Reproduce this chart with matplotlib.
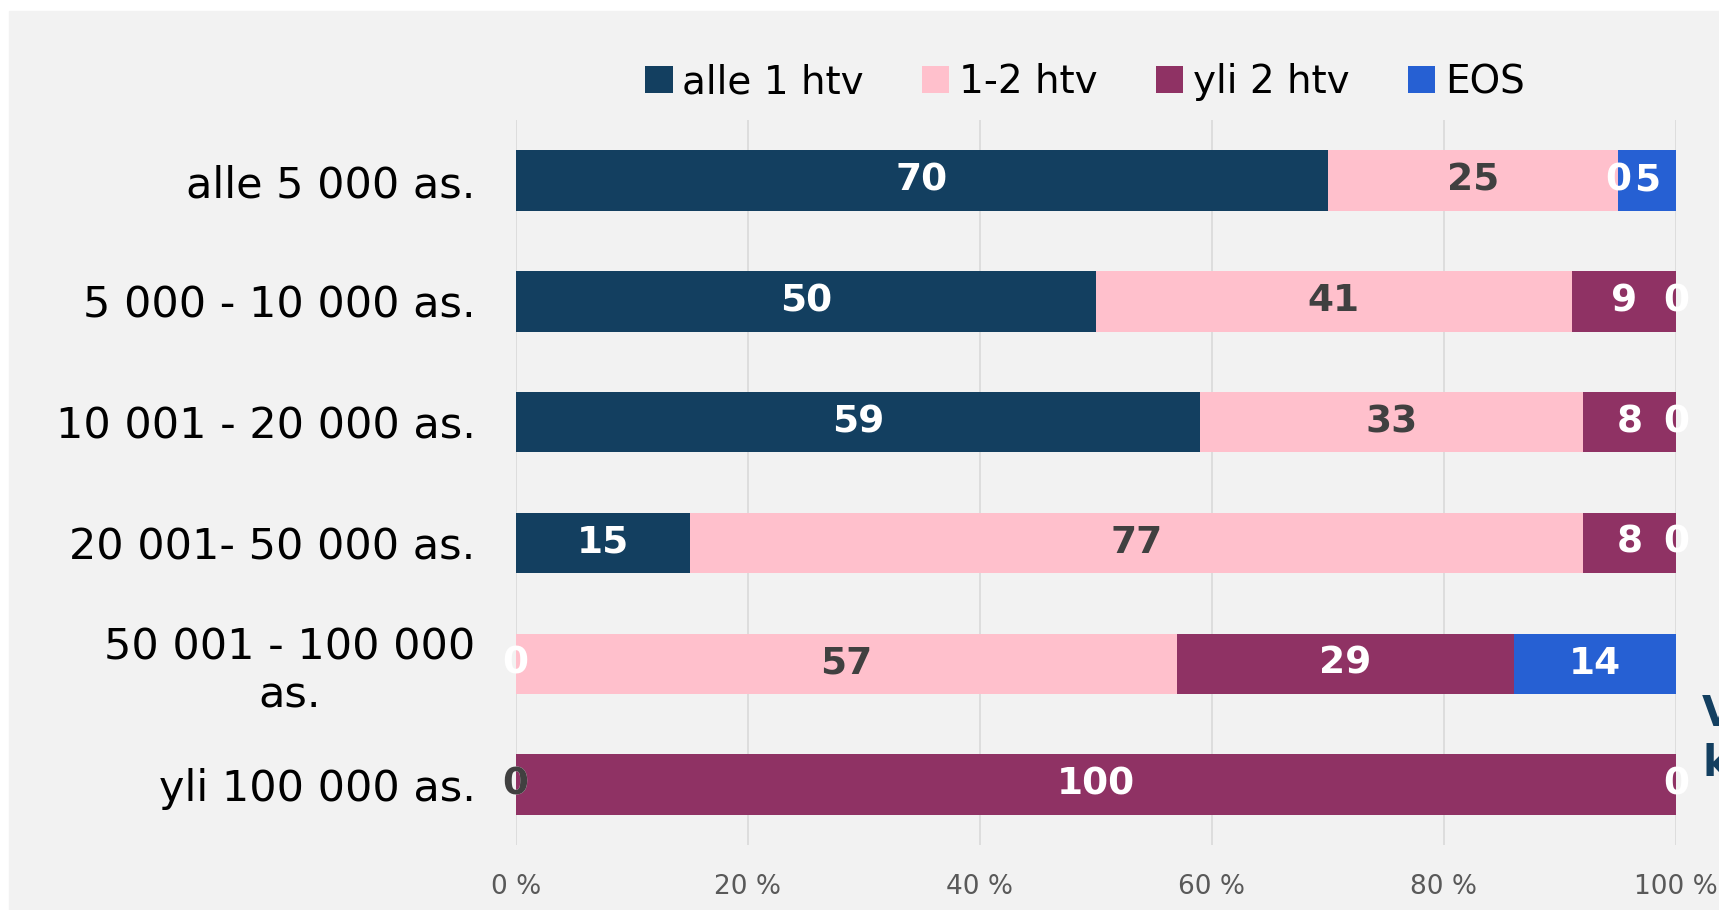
import numpy as np
import matplotlib
matplotlib.use('Agg')
from matplotlib import pyplot as plt
from matplotlib.patches import Rectangle

plt.rcParams['font.family'] = ['DejaVu Sans']

# Data
categories = ['alle 5 000 as.', '5 000 - 10 000 as.', '10 001 - 20 000 as.',
              '20 001- 50 000 as.', '50 001 - 100 000\nas.', 'yli 100 000 as.']
series = ['alle 1 htv', '1-2 htv', 'yli 2 htv', 'EOS']
alle_1 = [70, 50, 59, 15, 0, 0]
htv_1_2 = [25, 41, 33, 77, 57, 0]
yli_2 = [0, 9, 8, 8, 29, 100]
eos = [5, 0, 0, 0, 14, 0]
ticks = [0, 20, 40, 60, 80, 100]

colors = ['#133f60', '#ffc0cc', '#8f3264', '#2660d3']
label_colors = ['white', '#404040', 'white', 'white']

fig = plt.figure(figsize=(17.19, 9.10), dpi=100, facecolor='white')
fig.patches.append(Rectangle((9 / 1719, 0), 1, 1 - 11 / 910,
                             transform=fig.transFigure, color='#f2f2f2',
                             zorder=-10))
ax = fig.add_axes([0.300, 0.0714, 0.675, 0.7966])
ax.set_facecolor('#f2f2f2')

y = np.arange(len(categories))
left = np.zeros(len(categories))
for name, vals, col, lcol in zip(series, [alle_1, htv_1_2, yli_2, eos],
                                 colors, label_colors):
    bars = ax.barh(y, vals, left=left, height=0.5, color=col, label=name,
                   zorder=2)
    ax.bar_label(bars, labels=[str(v) for v in vals], label_type='center',
                 color=lcol, fontsize=27, fontweight='bold', zorder=3)
    left += np.array(vals)

ax.set_ylim(len(categories) - 0.5, -0.5)
ax.set_xlim(0, 100)
ax.set_yticks(y)
ax.set_yticklabels(categories, fontsize=31, multialignment='center')
ax.set_xticks(ticks)
ax.set_xticklabels([f'{t} %' for t in ticks], fontsize=19, color='#595959')
ax.tick_params(axis='y', length=0, pad=29)
ax.tick_params(axis='x', length=0, pad=21)
ax.grid(axis='x', color='#d9d9d9', linewidth=1.2, zorder=0)
for s in ax.spines.values():
    s.set_visible(False)

ax.legend(loc='center', bbox_to_anchor=(1085 / 1719, 1 - 82 / 910),
          bbox_transform=fig.transFigure, ncol=4, frameon=False, fontsize=28,
          handlelength=0.7, handleheight=0.7, handletextpad=0.25,
          columnspacing=1.5)

# clipped text fragment at the right edge
fig.text(1702 / 1719, 1 - 714 / 910, 'V', fontsize=30, fontweight='bold',
         color='#133f60', va='center')
fig.text(1702 / 1719, 1 - 764 / 910, 'k', fontsize=30, fontweight='bold',
         color='#133f60', va='center')

fig.savefig('out.png', dpi=100, facecolor=fig.get_facecolor())
